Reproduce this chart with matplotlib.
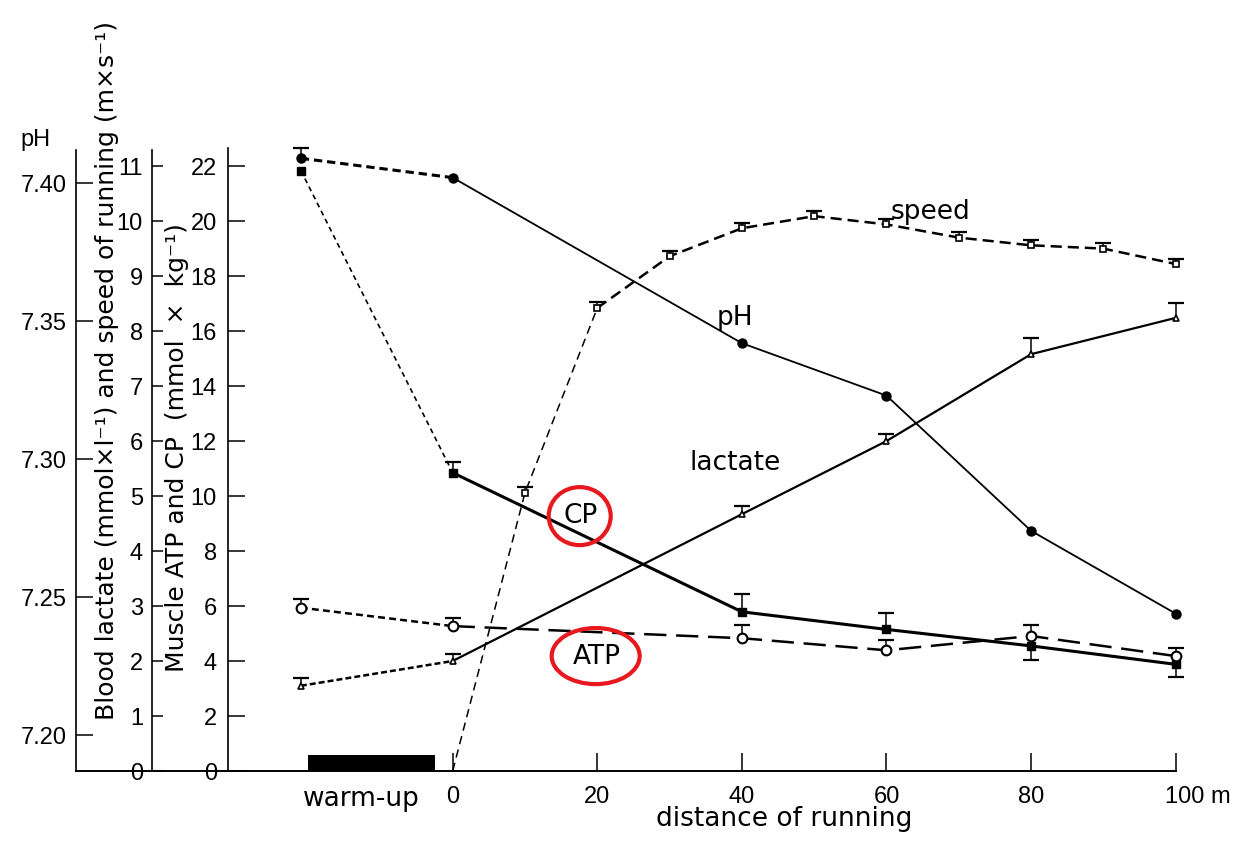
import numpy as np
import matplotlib
import matplotlib.pyplot as plt
from matplotlib.patches import Ellipse
from matplotlib.transforms import ScaledTranslation

matplotlib.use("Agg")
plt.rcParams["font.family"] = ["Liberation Sans", "DejaVu Sans"]
plt.rcParams["lines.scale_dashes"] = False

# valores (warm-up + 0..100 m)
warmup_x = -21
dist = np.array([warmup_x, 0, 40, 60, 80, 100])
ph = np.array([7.409, 7.402, 7.342, 7.323, 7.274, 7.244])
ph_err_up = np.array([0.0036, 0, 0, 0, 0, 0])
cp = np.array([21.84, 10.85, 5.79, 5.15, 4.55, 3.88])
cp_err_up = np.array([0, 0.4, 0.65, 0.58, 0, 0])
cp_err_lo = np.array([0, 0, 0, 0, 0.5, 0.47])
atp = np.array([5.94, 5.27, 4.83, 4.39, 4.91, 4.18])
atp_err_up = np.array([0.3, 0.3, 0.47, 0.36, 0.4, 0.3])
lactate = np.array([1.55, 2.0, 4.67, 6.0, 7.58, 8.24])
lactate_err_up = np.array([0.15, 0.13, 0.15, 0.13, 0.29, 0.27])

speed_dist = np.array([0, 10, 20, 30, 40, 50, 60, 70, 80, 90, 100])
speed = np.array([0, 5.06, 8.42, 9.36, 9.87, 10.09, 9.94, 9.70, 9.56, 9.50, 9.22])
speed_err_up = np.array([0, 0.1, 0.1, 0.1, 0.1, 0.1, 0.1, 0.1, 0.1, 0.1, 0.1])

warmup_bar = (-20.0, -2.5)
x_ticks = [0, 20, 40, 60, 80, 100]
x_labels = ["0", "20", "40", "60", "80", "100 m"]
ph_ticks = [7.20, 7.25, 7.30, 7.35, 7.40]
lac_ticks = list(range(0, 12))
atp_ticks = list(range(0, 23, 2))

FS = 17  # numeros
WFS = 19  # palavras (fonte mais larga no original)
WORD = ["DejaVu Sans"]
W, H = 1253, 842
fig = plt.figure(figsize=(W / 100, H / 100), dpi=100)
fig.patch.set_facecolor("white")
ax = fig.add_axes([76 / W, 71 / H, 1164 / W, 631 / H])  # ATP / CP
ax_lac = ax.twinx()  # lactato e velocidade
ax_ph = ax.twinx()  # pH

ax.set_xlim(-52.1, 108.9)
ax.set_ylim(0, 22.95)
ax_lac.set_ylim(0, 22.95 / 2)
ax_ph.set_ylim(7.18696, 7.41563)

for a in (ax, ax_lac, ax_ph):
    for s in ("top", "right", "bottom"):
        a.spines[s].set_visible(False)
    a.yaxis.tick_left()
    a.spines["left"].set_linewidth(1.2)
ax.spines["bottom"].set_visible(True)
ax.spines["bottom"].set_linewidth(1.4)
ax.spines["bottom"].set_bounds(-52.1, 100)

ax_ph.spines["left"].set_position(("axes", 0.0))
ax_lac.spines["left"].set_position(("axes", 0.0653))
ax.spines["left"].set_position(("axes", 0.1306))
ax.spines["left"].set_bounds(0, 22.65)
ax_lac.spines["left"].set_bounds(0, 22.58 / 2)
ax_ph.spines["left"].set_bounds(7.18696, 7.412)

ax_ph.set_yticks(ph_ticks)
ax_ph.set_yticklabels([f"{v:.2f}" for v in ph_ticks])
ax_lac.set_yticks(lac_ticks)
ax.set_yticks(atp_ticks)
ax_ph.tick_params(axis="y", direction="in", length=12, width=1.1, pad=7, labelsize=FS)
ax_lac.tick_params(axis="y", direction="in", length=8, width=1.1, pad=6.5, labelsize=FS)
ax.tick_params(axis="y", direction="in", length=12, width=1.1, pad=8, labelsize=FS)

ax.set_xticks(x_ticks)
ax.set_xticklabels(x_labels)
ax.tick_params(axis="x", direction="in", length=13, width=1.1, pad=11, labelsize=FS)
last = ax.get_xticklabels()[-1]
last.set_horizontalalignment("left")
last.set_transform(last.get_transform() + ScaledTranslation(-0.11, 0, fig.dpi_scale_trans))


def caps(a, x, y, err, sign):
    m = err > 0
    yy = y[m] + sign * err[m]
    a.vlines(x[m], y[m], yy, color="k", lw=1.1, zorder=2)
    a.plot(x[m], yy, ls="none", marker="_", ms=11, mew=1.6, color="k", zorder=2)


# pH
ax_ph.plot(dist[:2], ph[:2], color="k", lw=2.2, dashes=(6, 3.5))
ax_ph.plot(dist[1:], ph[1:], color="k", lw=1.3)
ax_ph.plot(dist, ph, ls="none", marker="o", ms=6.5, color="k", zorder=4)
caps(ax_ph, dist, ph, ph_err_up, 1)

# CP
ax.plot(dist[:2], cp[:2], color="k", lw=1.2, dashes=(3.6, 2.9))
ax.plot(dist[1:], cp[1:], color="k", lw=2.2)
ax.plot(dist, cp, ls="none", marker="s", ms=5.5, color="k", zorder=4)
caps(ax, dist, cp, cp_err_up, 1)
caps(ax, dist, cp, cp_err_lo, -1)

# ATP
ax.plot(dist[:2], atp[:2], color="k", lw=1.8, dashes=(5, 3))
ax.plot(dist[1:], atp[1:], color="k", lw=1.8, dashes=(16, 7))
caps(ax, dist, atp, atp_err_up, 1)
ax.plot(dist, atp, ls="none", marker="o", ms=7, mfc="white", mec="k", mew=1.5, zorder=4)

# lactato
ax_lac.plot(dist[:2], lactate[:2], color="k", lw=1.8, dashes=(4.3, 2.2))
ax_lac.plot(dist[1:], lactate[1:], color="k", lw=1.6)
caps(ax_lac, dist, lactate, lactate_err_up, 1)
ax_lac.plot(dist, lactate, ls="none", marker="^", ms=5, mfc="white", mec="k", mew=1.2, zorder=4)

# velocidade
ax_lac.plot(speed_dist[:3], speed[:3], color="k", lw=1.1, dashes=(6, 4))
ax_lac.plot(speed_dist[2:], speed[2:], color="k", lw=1.8, dashes=(8, 4.3))
caps(ax_lac, speed_dist, speed, speed_err_up, 1)
ax_lac.plot(speed_dist[1:], speed[1:], ls="none", marker="s", ms=4.5, mfc="white", mec="k", mew=1.2, zorder=4)

# barra do aquecimento
ax.bar((warmup_bar[0] + warmup_bar[1]) / 2, 0.6, width=warmup_bar[1] - warmup_bar[0],
       bottom=0, color="k", zorder=3)

# rotulos das curvas
kw = dict(fontsize=WFS, family=WORD, ha="center", va="center")
ax.text(39.0, 16.47, "pH", **kw)
ax.text(66.1, 20.33, "speed", **kw)
ax.text(39.0, 11.2, "lactate", **kw)
ax.text(17.7, 9.27, "CP", **kw)
ax.text(19.9, 4.15, "ATP", **kw)
ax.add_patch(Ellipse((17.57, 9.27), 8.58, 2.11, fill=False, ec="#e8191e", lw=3, zorder=5))
ax.add_patch(Ellipse((19.78, 4.18), 12.17, 2.04, fill=False, ec="#e8191e", lw=3, zorder=5))

ax.text(-12.6, -0.55, "warm-up", fontsize=WFS, family=WORD, ha="center", va="top", clip_on=False)
fig.text(784 / W, 1 - 819 / H, "distance of running", fontsize=WFS, family=WORD, ha="center", va="center")
fig.text(35 / W, 1 - 140 / H, "pH", fontsize=FS, ha="center", va="center")

ax.text(0.0266, 0.635, "Blood lactate (mmol\u00d7l\u207b\u00b9) and speed of running (m\u00d7s\u207b\u00b9)",
        transform=ax.transAxes, rotation=90, fontsize=18, family=WORD,
        ha="center", va="center", clip_on=False)
ax.text(0.0868, 0.513, "Muscle ATP and CP  (mmol  \u00d7  kg\u207b\u00b9)",
        transform=ax.transAxes, rotation=90, fontsize=18, family=WORD,
        ha="center", va="center", clip_on=False)

fig.savefig("out.png", dpi=100)
